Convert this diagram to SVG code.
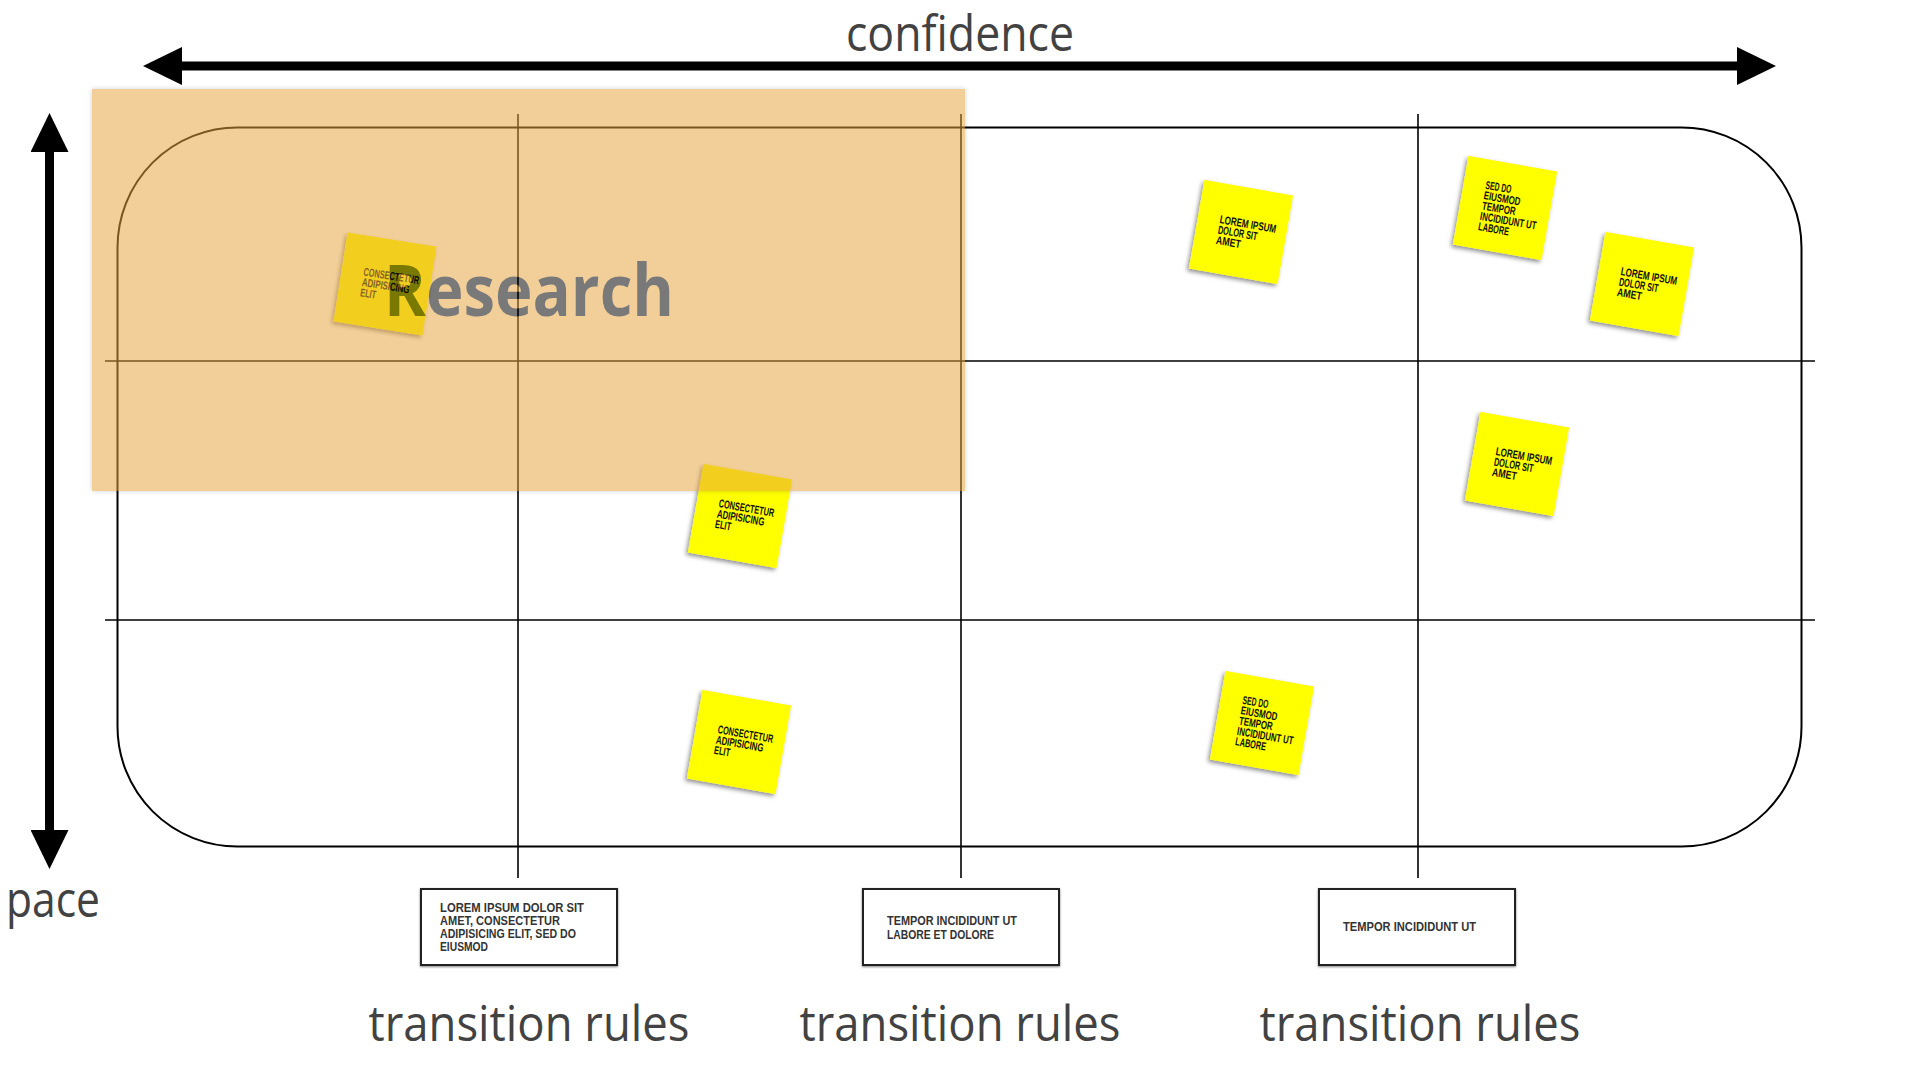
<svg xmlns="http://www.w3.org/2000/svg" width="1920" height="1080" viewBox="0 0 1920 1080">
<style>
.axis{stroke:#000;stroke-width:9;fill:none}
.grid{stroke:#000;stroke-width:1.6;fill:none}
.frame{stroke:#000;stroke-width:2;fill:none}
.big{font-family:"Open Sans","Liberation Sans",sans-serif;font-size:50px;fill:#424242}
.sticky{fill:#ffff00;filter:url(#sh)}
.st{font-family:"Liberation Sans Narrow","Liberation Sans",sans-serif;font-weight:bold;font-size:11.5px;fill:#111}
.box{fill:#fff;stroke:#222;stroke-width:2;filter:url(#bsh)}
.bt{font-family:"Liberation Sans Narrow","Liberation Sans",sans-serif;font-weight:bold;font-size:12.5px;fill:#333}
</style>
<defs>
<marker id="ah" viewBox="0 0 39 38" refX="0" refY="19" markerWidth="39" markerHeight="38" markerUnits="userSpaceOnUse" orient="auto-start-reverse">
<path d="M0,0 L39,19 L0,38 Z" fill="#000"/>
</marker>
<filter id="sh" x="-20%" y="-20%" width="140%" height="140%">
<feDropShadow dx="-1.5" dy="2.5" stdDeviation="2" flood-color="#000" flood-opacity="0.45"/>
</filter>
<filter id="bsh" x="-10%" y="-10%" width="120%" height="130%">
<feDropShadow dx="0" dy="1" stdDeviation="0.8" flood-color="#000" flood-opacity="0.5"/>
</filter>
<filter id="osh" x="-5%" y="-5%" width="110%" height="110%">
<feDropShadow dx="0" dy="0" stdDeviation="2.5" flood-color="#000" flood-opacity="0.35"/>
</filter>
</defs>
<rect width="1920" height="1080" fill="#fff"/>

<g id="axes">
<line class="axis" x1="182" y1="66" x2="1737" y2="66" marker-start="url(#ah)" marker-end="url(#ah)"/>
<line class="axis" x1="49.5" y1="152" x2="49.5" y2="830" marker-start="url(#ah)" marker-end="url(#ah)"/>
<text class="big" x="960" y="51" text-anchor="middle" textLength="228" lengthAdjust="spacingAndGlyphs">confidence</text>
<text class="big" x="6" y="917" textLength="94" lengthAdjust="spacingAndGlyphs">pace</text>
</g>

<g id="board">
<rect class="frame" x="117.5" y="127.5" width="1684" height="719" rx="120" ry="120"/>
</g>

<g id="connectors">
<line class="grid" x1="518" y1="114" x2="518" y2="878"/>
<line class="grid" x1="961" y1="114" x2="961" y2="878"/>
<line class="grid" x1="1418" y1="114" x2="1418" y2="878"/>
<line class="grid" x1="105" y1="361" x2="1815" y2="361"/>
<line class="grid" x1="105" y1="620" x2="1815" y2="620"/>
</g>

<g id="sticky-1" transform="translate(385,284) rotate(9)">
<rect class="sticky" x="-45" y="-45" width="90" height="90"/>
<text class="st" x="-23" y="-5" textLength="56" lengthAdjust="spacingAndGlyphs">CONSECTETUR</text>
<text class="st" x="-23" y="5.5" textLength="48" lengthAdjust="spacingAndGlyphs">ADIPISICING</text>
<text class="st" x="-23" y="16" textLength="16" lengthAdjust="spacingAndGlyphs">ELIT</text>
</g>
<g id="sticky-2" transform="translate(740,516) rotate(10)">
<rect class="sticky" x="-45" y="-45" width="90" height="90"/>
<text class="st" x="-23" y="-5" textLength="56" lengthAdjust="spacingAndGlyphs">CONSECTETUR</text>
<text class="st" x="-23" y="5.5" textLength="48" lengthAdjust="spacingAndGlyphs">ADIPISICING</text>
<text class="st" x="-23" y="16" textLength="16" lengthAdjust="spacingAndGlyphs">ELIT</text>
</g>
<g id="sticky-3" transform="translate(739,742) rotate(10)">
<rect class="sticky" x="-45" y="-45" width="90" height="90"/>
<text class="st" x="-23" y="-5" textLength="56" lengthAdjust="spacingAndGlyphs">CONSECTETUR</text>
<text class="st" x="-23" y="5.5" textLength="48" lengthAdjust="spacingAndGlyphs">ADIPISICING</text>
<text class="st" x="-23" y="16" textLength="16" lengthAdjust="spacingAndGlyphs">ELIT</text>
</g>
<g id="sticky-4" transform="translate(1241,232) rotate(10)">
<rect class="sticky" x="-45" y="-45" width="90" height="90"/>
<text class="st" x="-23" y="-5" textLength="57" lengthAdjust="spacingAndGlyphs">LOREM IPSUM</text>
<text class="st" x="-23" y="5.5" textLength="40" lengthAdjust="spacingAndGlyphs">DOLOR SIT</text>
<text class="st" x="-23" y="16" textLength="25" lengthAdjust="spacingAndGlyphs">AMET</text>
</g>
<g id="sticky-5" transform="translate(1505,208) rotate(10)">
<rect class="sticky" x="-45" y="-45" width="90" height="90"/>
<text class="st" x="-23" y="-15.5" textLength="26" lengthAdjust="spacingAndGlyphs">SED DO</text>
<text class="st" x="-23" y="-5" textLength="37" lengthAdjust="spacingAndGlyphs">EIUSMOD</text>
<text class="st" x="-23" y="5.5" textLength="34" lengthAdjust="spacingAndGlyphs">TEMPOR</text>
<text class="st" x="-23" y="16" textLength="57" lengthAdjust="spacingAndGlyphs">INCIDIDUNT UT</text>
<text class="st" x="-23" y="26.5" textLength="31" lengthAdjust="spacingAndGlyphs">LABORE</text>
</g>
<g id="sticky-6" transform="translate(1642,284) rotate(10)">
<rect class="sticky" x="-45" y="-45" width="90" height="90"/>
<text class="st" x="-23" y="-5" textLength="57" lengthAdjust="spacingAndGlyphs">LOREM IPSUM</text>
<text class="st" x="-23" y="5.5" textLength="40" lengthAdjust="spacingAndGlyphs">DOLOR SIT</text>
<text class="st" x="-23" y="16" textLength="25" lengthAdjust="spacingAndGlyphs">AMET</text>
</g>
<g id="sticky-7" transform="translate(1517,464) rotate(10)">
<rect class="sticky" x="-45" y="-45" width="90" height="90"/>
<text class="st" x="-23" y="-5" textLength="57" lengthAdjust="spacingAndGlyphs">LOREM IPSUM</text>
<text class="st" x="-23" y="5.5" textLength="40" lengthAdjust="spacingAndGlyphs">DOLOR SIT</text>
<text class="st" x="-23" y="16" textLength="25" lengthAdjust="spacingAndGlyphs">AMET</text>
</g>
<g id="sticky-8" transform="translate(1262,723) rotate(10)">
<rect class="sticky" x="-45" y="-45" width="90" height="90"/>
<text class="st" x="-23" y="-15.5" textLength="26" lengthAdjust="spacingAndGlyphs">SED DO</text>
<text class="st" x="-23" y="-5" textLength="37" lengthAdjust="spacingAndGlyphs">EIUSMOD</text>
<text class="st" x="-23" y="5.5" textLength="34" lengthAdjust="spacingAndGlyphs">TEMPOR</text>
<text class="st" x="-23" y="16" textLength="57" lengthAdjust="spacingAndGlyphs">INCIDIDUNT UT</text>
<text class="st" x="-23" y="26.5" textLength="31" lengthAdjust="spacingAndGlyphs">LABORE</text>
</g>

<g id="research" opacity="0.52">
<rect x="92" y="89" width="873" height="402" fill="#E8A43E" filter="url(#osh)"/>
<text x="384" y="316" font-family="'Open Sans','Liberation Sans',sans-serif" font-weight="bold" font-size="72" fill="#000" textLength="290" lengthAdjust="spacingAndGlyphs">Research</text>
</g>

<g id="rule-1">
<rect class="box" x="421" y="889" width="196" height="76"/>
<text class="bt" x="440" y="912" textLength="144" lengthAdjust="spacingAndGlyphs">LOREM IPSUM DOLOR SIT</text>
<text class="bt" x="440" y="925" textLength="120" lengthAdjust="spacingAndGlyphs">AMET, CONSECTETUR</text>
<text class="bt" x="440" y="938" textLength="136" lengthAdjust="spacingAndGlyphs">ADIPISICING ELIT, SED DO</text>
<text class="bt" x="440" y="951" textLength="48" lengthAdjust="spacingAndGlyphs">EIUSMOD</text>
<text class="big" x="529" y="1041" text-anchor="middle" textLength="321" lengthAdjust="spacingAndGlyphs">transition rules</text>
</g>
<g id="rule-2">
<rect class="box" x="863" y="889" width="196" height="76"/>
<text class="bt" x="887" y="925" textLength="130" lengthAdjust="spacingAndGlyphs">TEMPOR INCIDIDUNT UT</text>
<text class="bt" x="887" y="939" textLength="107" lengthAdjust="spacingAndGlyphs">LABORE ET DOLORE</text>
<text class="big" x="960" y="1041" text-anchor="middle" textLength="321" lengthAdjust="spacingAndGlyphs">transition rules</text>
</g>
<g id="rule-3">
<rect class="box" x="1319" y="889" width="196" height="76"/>
<text class="bt" x="1343" y="931" textLength="133" lengthAdjust="spacingAndGlyphs">TEMPOR INCIDIDUNT UT</text>
<text class="big" x="1420" y="1041" text-anchor="middle" textLength="321" lengthAdjust="spacingAndGlyphs">transition rules</text>
</g>
</svg>
